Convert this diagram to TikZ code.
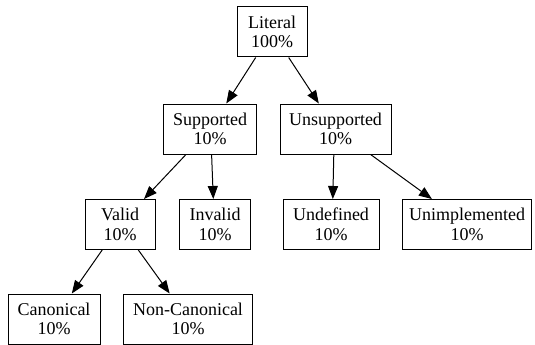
\documentclass[tikz,border=0pt]{standalone}
\usepackage{fontspec}
\setmainfont{Liberation Serif}
\usetikzlibrary{arrows.meta}
\begin{document}
\begin{tikzpicture}[x=1pt,y=-1pt,
  box/.style={draw, line width=1pt, rectangle, inner sep=0pt, minimum height=50pt,
    align=center, font=\fontsize{18}{19.5}\selectfont},
  edge/.style={line width=1pt, -{Triangle[length=13pt,width=10pt]}}]
\useasboundingbox (0,0) rectangle (535,345);
\node[box, minimum width=70pt]  (lit) at (272,32)   {Literal\\100\%};
\node[box, minimum width=93pt]  (sup) at (210,129)  {Supported\\10\%};
\node[box, minimum width=111pt] (uns) at (335.5,129) {Unsupported\\10\%};
\node[box, minimum width=70pt]  (val) at (120,224.5) {Valid\\10\%};
\node[box, minimum width=71pt]  (inv) at (215,224.5) {Invalid\\10\%};
\node[box, minimum width=96pt]  (und) at (331,224.5) {Undefined\\10\%};
\node[box, minimum width=129pt] (uni) at (467,224.5) {Unimplemented\\10\%};
\node[box, minimum width=92pt]  (can) at (54,319)    {Canonical\\10\%};
\node[box, minimum width=129pt] (non) at (188,319)   {Non-Canonical\\10\%};
\draw[edge] (lit) -- (sup);
\draw[edge] (lit) -- (uns);
\draw[edge] (sup) -- (val);
\draw[edge] (sup.south -| 211.6,0) -- (inv.north -| 213.3,0);
\draw[edge] (uns.south -| 333.8,0) -- (und.north -| 332.8,0);
\draw[edge] (uns) -- (uni);
\draw[edge] (val) -- (can);
\draw[edge] (val) -- (non);
\end{tikzpicture}
\end{document}
